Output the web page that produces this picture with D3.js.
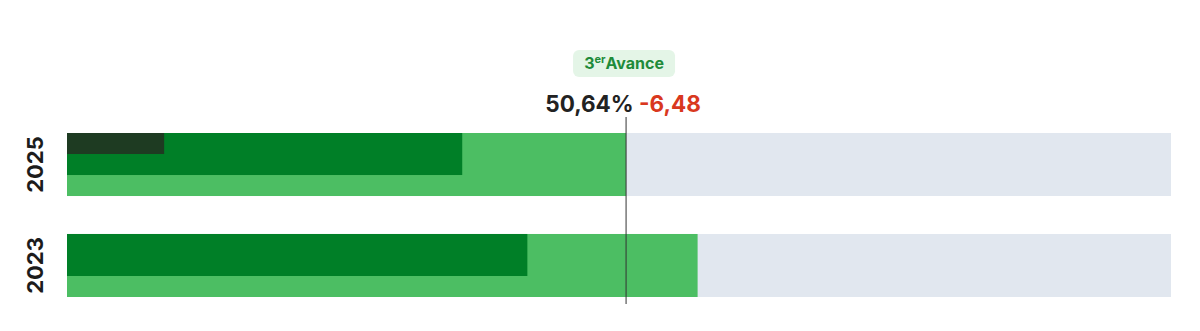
<!DOCTYPE html>
<html>
<head>
<meta charset="utf-8">
<script src="https://cdn.jsdelivr.net/npm/d3@7"></script>
<style>
  body { margin: 0; background: #fff; }
  svg text { font-family: Inter, "Noto Sans", sans-serif; }
</style>
</head>
<body>
<div id="chart"></div>
<script>
// data
const years = ["2025", "2023"];
const totalValues = [50.64, 57.12];     // light green
const midValues = [35.8, 41.7];         // dark green (upper 2/3)
const topValues = [8.8, null];          // darkest (upper 1/3)
const currentValue = 50.64;
const deltaLabel = "-6,48";
const valueLabel = "50,64%";

const width = 1200, height = 331;
const margin = {left: 67, right: 29};

const svg = d3.select("#chart").append("svg")
  .attr("width", width)
  .attr("height", height);

const x = d3.scaleLinear().domain([0, 100]).range([margin.left, width - margin.right]);
const y = d3.scaleBand().domain(years).range([133, 297]).paddingInner(0.376).paddingOuter(0);
const bh = y.bandwidth();

const rows = svg.selectAll(".row")
  .data(years)
  .enter().append("g")
  .attr("class", "row")
  .attr("transform", d => `translate(0,${y(d)})`);

rows.append("rect")
  .attr("x", x(0)).attr("y", 0)
  .attr("width", x(100) - x(0)).attr("height", bh)
  .attr("fill", "#e1e7ef");

rows.append("rect")
  .attr("x", x(0)).attr("y", 0)
  .attr("width", (d, i) => x(totalValues[i]) - x(0)).attr("height", bh)
  .attr("fill", "#4cbe63");

rows.append("rect")
  .attr("x", x(0)).attr("y", 0)
  .attr("width", (d, i) => x(midValues[i]) - x(0)).attr("height", bh * 2 / 3)
  .attr("fill", "#007f27");

rows.filter((d, i) => topValues[i] != null).append("rect")
  .attr("x", x(0)).attr("y", 0)
  .attr("width", d => x(topValues[years.indexOf(d)]) - x(0)).attr("height", bh / 3)
  .attr("fill", "#1e3b22");

rows.append("text")
  .attr("transform", `translate(43,${bh / 2}) rotate(-90)`)
  .attr("text-anchor", "middle")
  .attr("font-size", 22).attr("font-weight", 700)
  .attr("fill", "#1c1c1c")
  .text(d => d);

// current marker line
const cx = x(currentValue);
svg.append("line")
  .attr("x1", cx).attr("x2", cx)
  .attr("y1", 117).attr("y2", 304)
  .attr("stroke", "#333").attr("stroke-width", 1);

const lbl = svg.append("text")
  .attr("x", cx - 3).attr("y", 112)
  .attr("text-anchor", "middle")
  .attr("font-size", 22.5).attr("font-weight", 700);
lbl.append("tspan").attr("fill", "#222").text(valueLabel + " ");
lbl.append("tspan").attr("fill", "#d9381e").text(deltaLabel);

// badge
svg.append("rect")
  .attr("x", cx - 53).attr("y", 50)
  .attr("width", 102).attr("height", 27)
  .attr("rx", 6)
  .attr("fill", "#e4f5e7");

const badge = svg.append("text")
  .attr("x", cx - 2).attr("y", 69)
  .attr("text-anchor", "middle")
  .attr("font-size", 16).attr("font-weight", 700)
  .attr("fill", "#1f8b3a");
badge.append("tspan").text("3");
badge.append("tspan").attr("font-size", 11).attr("dy", -6).text("er");
badge.append("tspan").attr("dy", 6).text("Avance");
</script>
</body>
</html>
